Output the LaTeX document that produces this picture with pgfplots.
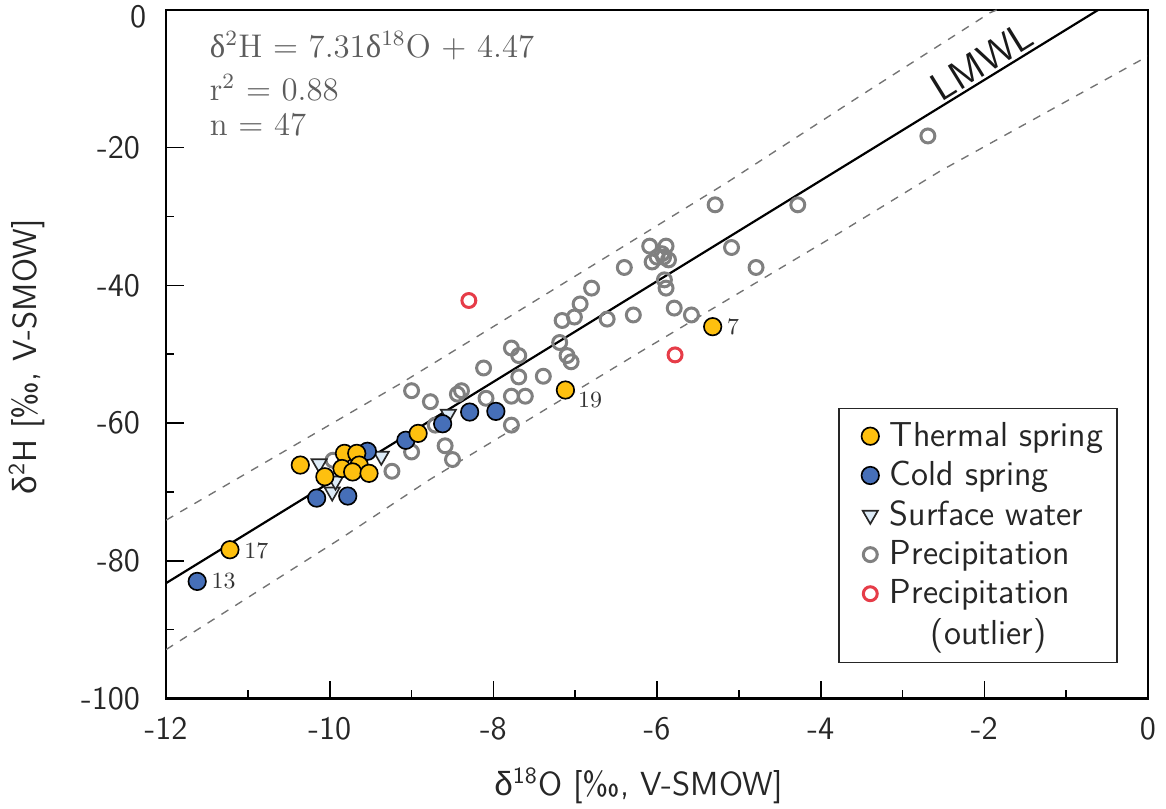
\documentclass[border=0pt]{standalone}
\usepackage{fontspec}
\usepackage{pgfplots}
\pgfplotsset{compat=1.18}
\newfontfamily\grkserif{Liberation Serif}
\newfontfamily\grksans{Liberation Sans}
\definecolor{thermal}{RGB}{254,192,15}
\definecolor{cold}{RGB}{70,111,184}
\definecolor{surf}{RGB}{221,235,247}
\definecolor{precip}{RGB}{128,128,128}
\definecolor{outl}{RGB}{230,60,72}
\definecolor{annot}{RGB}{92,92,92}

% precipitation
\pgfplotstableread{
x y
-9.96 -65.4
-9.24 -67.0
-9.00 -64.2
-8.59 -63.3
-8.50 -65.3
-9.00 -55.3
-8.77 -56.9
-8.44 -55.8
-8.39 -55.3
-8.71 -60.3
-8.12 -52.0
-8.09 -56.4
-7.78 -49.1
-7.69 -50.2
-7.69 -53.3
-7.78 -56.1
-7.61 -56.1
-7.39 -53.2
-7.19 -48.3
-7.10 -50.2
-7.05 -51.1
-7.78 -60.3
-5.29 -28.3
-4.28 -28.3
-6.09 -34.3
-5.89 -34.3
-6.06 -36.6
-6.00 -35.9
-5.94 -35.4
-5.92 -35.9
-5.86 -36.3
-5.09 -34.5
-6.40 -37.4
-4.79 -37.4
-5.91 -39.2
-5.89 -40.4
-6.80 -40.4
-6.94 -42.7
-7.16 -45.1
-7.01 -44.6
-6.61 -44.9
-6.29 -44.3
-5.79 -43.3
-5.58 -44.3
-2.69 -18.3
}\precip

\pgfplotstableread{
x y
-10.13 -65.9
-9.97 -70.0
-9.93 -68.4
-9.37 -64.8
-8.55 -58.7
}\surface

\pgfplotstableread{
x y
-11.62 -83.0
-10.16 -70.9
-9.78 -70.6
-9.54 -64.1
-9.07 -62.5
-8.62 -60.1
-8.29 -58.4
-7.97 -58.3
}\coldspring

\pgfplotstableread{
x y
-11.22 -78.4
-5.32 -46.0
-7.12 -55.2
-10.36 -66.1
-10.06 -67.8
-9.82 -64.4
-9.67 -64.4
-9.85 -66.6
-9.64 -66.1
-9.72 -67.1
-9.52 -67.3
-8.92 -61.5
}\thermal

\begin{document}
\begin{tikzpicture}
\begin{axis}[
  scale only axis,
  width=359.4pt, height=252pt,
  xmin=-12, xmax=0, ymin=-100, ymax=0,
  xtick={-12,-10,...,0}, ytick={-100,-80,...,-20},
  extra y ticks={0},
  extra y tick style={yticklabel style={yshift=-2.4pt, xshift=2.2pt}},
  minor x tick num=1, minor y tick num=1,
  tick align=inside, tick pos=left,
  major tick length=6.5pt, minor tick length=3pt,
  axis line style={line width=0.8pt},
  every tick/.style={black, line width=0.6pt},
  /pgf/number format/assume math mode=true,
  ticklabel style={font=\sffamily\fontsize{12}{14}\selectfont, text=black!85},
  xticklabel style={yshift=-3.5pt},
  yticklabel style={xshift=-6pt},
  xlabel={{\grksans δ}\textsuperscript{18}O [‰, V-SMOW]},
  ylabel={{\grksans δ}\textsuperscript{2}H [‰, V-SMOW]},
  label style={font=\sffamily\fontsize{12.2}{14}\selectfont, text=black!85},
  xlabel style={at={(axis description cs:0.481,-0.127)}, anchor=center},
  ylabel style={at={(axis description cs:-0.142,0.496)}, anchor=center},
  legend style={at={(0.969,0.051)}, anchor=south east, draw=black!85, line width=0.6pt,
    font=\sffamily\fontsize{12.7}{15}\selectfont, text=black!85,
    inner xsep=3pt, inner ysep=3pt, column sep=2pt},
  legend cell align=left,
  reverse legend,
]
% LMWL and prediction band
\addplot[black, line width=0.8pt, forget plot] coordinates {(-12,-83.25) (-0.61,0)};
\addplot[black!55, dashed, line width=0.5pt, forget plot] coordinates {
  (-12,-74.1) (-9.14,-54.3) (-7.92,-45.4) (-5.15,-25.1) (-3.52,-12.5) (-1.93,-0.4) (-1.85,0)};
\addplot[black!55, dashed, line width=0.5pt, forget plot] coordinates {
  (-12,-92.9) (-9.87,-76.8) (-8.79,-68.3) (-6.21,-49.7) (-3.76,-32.3) (-2.54,-23.4) (0,-6.7)};

% second line of the outlier entry
\addlegendimage{empty legend}
\addlegendentry{\hspace*{15pt}(outlier)}
\addplot[only marks, mark=o, mark size=2.55pt, mark options={draw=outl, line width=1.1pt}]
  coordinates {(-8.30,-42.2) (-5.78,-50.1)};
\addlegendentry{Precipitation}
\addplot[only marks, mark=o, mark size=2.55pt, mark options={draw=precip, line width=1.1pt}]
  table {\precip};
\addlegendentry{Precipitation}
\addplot[only marks, mark=triangle*, mark size=3.2pt,
  mark options={rotate=180, fill=surf, draw=black!85, line width=0.6pt}]
  table {\surface};
\addlegendentry{Surface water}
\addplot[only marks, mark=*, mark size=3.2pt,
  mark options={fill=cold, draw=black, line width=0.6pt}]
  table {\coldspring};
\addlegendentry{Cold spring}
\addplot[only marks, mark=*, mark size=3.2pt,
  mark options={fill=thermal, draw=black, line width=0.6pt}]
  table {\thermal};
\addlegendentry{Thermal spring}

% sample numbers
\begin{scope}[every node/.style={font=\fontsize{8.5}{10}\selectfont, text=black!80, anchor=west, inner sep=0pt}]
\node at (axis cs:-11.45,-83.0) {13};
\node at (axis cs:-11.05,-78.5) {17};
\node at (axis cs:-6.97,-56.7) {19};
\node at (axis cs:-5.15,-46.1) {7};
\end{scope}

\node[font=\sffamily\fontsize{14.5}{16}\selectfont, rotate=31.7, text=black!90,
  anchor=south, inner sep=1pt] at (axis cs:-1.92,-9.55) {LMWL};

\begin{scope}[every node/.style={font=\fontsize{12}{14}\selectfont, text=annot, anchor=west, inner sep=0pt}]
\node at (axis description cs:0.044,0.948) {{\grkserif δ}\textsuperscript{2}H = 7.31{\grkserif δ}\textsuperscript{18}O + 4.47};
\node at (axis description cs:0.044,0.887) {r\textsuperscript{2} = 0.88};
\node at (axis description cs:0.044,0.834) {n = 47};
\end{scope}

\coordinate (SW) at (rel axis cs:0,0);
\coordinate (NE) at (rel axis cs:1,1);
\end{axis}
\pgfresetboundingbox
\path ([shift={(-60.8pt,-40.1pt)}]SW) rectangle ([shift={(6.6pt,3.66pt)}]NE);
\end{tikzpicture}
\end{document}
